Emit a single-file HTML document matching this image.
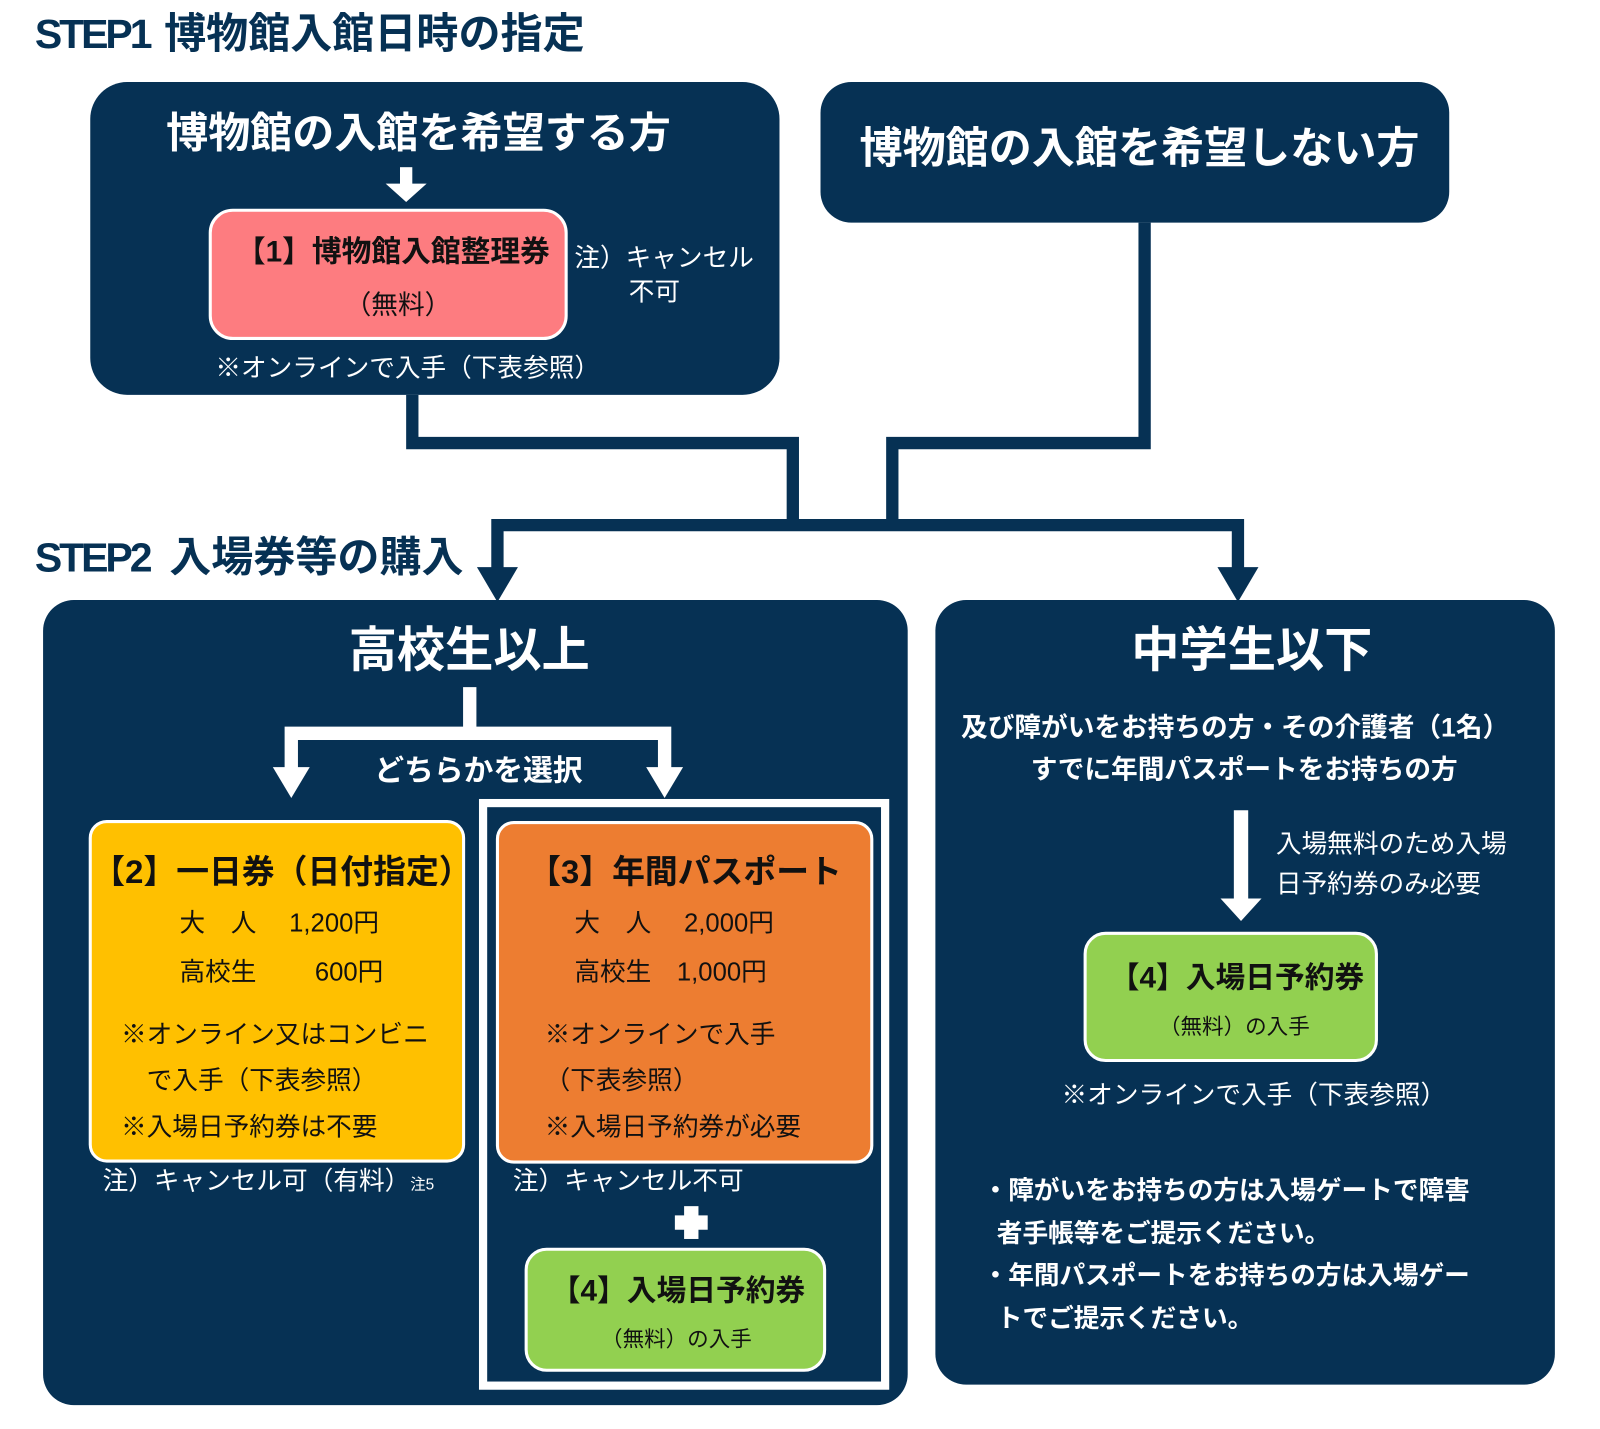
<!DOCTYPE html>
<html><head><meta charset="utf-8"><style>
html,body{margin:0;padding:0;background:#fff;width:1600px;height:1429px;overflow:hidden}
#c{position:absolute;left:0;top:0;width:1560px;height:1393px;transform:scale(1.02564);transform-origin:0 0;font-family:"Liberation Sans","Noto Sans CJK JP",sans-serif}
.t{position:absolute;white-space:nowrap;line-height:1}
.w{color:#fff}.b{font-weight:bold}
svg{position:absolute;left:0;top:0}
</style></head><body><div id="c">
<svg width="1560" height="1393" viewBox="0 0 1560 1393">
<g fill="#063154">
<rect x="88" y="80" width="672" height="305" rx="36"/>
<rect x="800" y="80" width="613" height="137" rx="30"/>
<rect x="42" y="585" width="843" height="785" rx="30"/>
<rect x="912" y="585" width="604" height="765" rx="30"/>
</g>
<g fill="none" stroke="#063154" stroke-width="12">
<polyline points="402,385 402,432 773,432 773,512"/>
<polyline points="1116,217 1116,432 870,432 870,512"/>
<polyline points="485,555 485,512 1207,512 1207,555"/>
</g>
<g fill="#063154">
<polygon points="465,553 505,553 485,587"/>
<polygon points="1187,553 1227,553 1207,587"/>
</g>
<g fill="#fff">
<rect x="390" y="163" width="12" height="18"/>
<polygon points="376,179 416,179 396,197"/>
</g>
<rect x="205" y="205" width="347" height="125" rx="22" fill="#fd7c80" stroke="#fff" stroke-width="3"/>
<g fill="none" stroke="#fff" stroke-width="13">
<polyline points="458,670 458,715"/>
<polyline points="284,752 284,715 648,715 648,752"/>
</g>
<g fill="#fff">
<polygon points="266,748 302,748 284,778"/>
<polygon points="630,748 666,748 648,778"/>
</g>
<rect x="471" y="783" width="392" height="568" fill="none" stroke="#fff" stroke-width="8"/>
<rect x="88" y="801" width="364" height="331" rx="16" fill="#ffc000" stroke="#fff" stroke-width="3"/>
<rect x="485" y="802" width="365" height="331" rx="16" fill="#ed7d31" stroke="#fff" stroke-width="3"/>
<rect x="513" y="1218" width="291" height="118" rx="20" fill="#92d050" stroke="#fff" stroke-width="3"/>
<g fill="#fff">
<rect x="667" y="1176" width="14" height="32"/>
<rect x="658" y="1185" width="32" height="14"/>
</g>
<g fill="#fff">
<rect x="1203" y="790" width="14" height="90"/>
<polygon points="1190,876 1230,876 1210,898"/>
</g>
<rect x="1058" y="910" width="284" height="124" rx="20" fill="#92d050" stroke="#fff" stroke-width="3"/>
</svg>

<div class="t b" style="left:34px;top:14px;font-size:40px;color:#063154;letter-spacing:-3px">STEP1</div>
<div class="t b" style="left:160px;top:13px;font-size:41px;color:#063154">博物館入館日時の指定</div>
<div class="t b" style="left:34px;top:524px;font-size:40px;color:#063154;letter-spacing:-3px">STEP2</div>
<div class="t b" style="left:165px;top:523px;font-size:41px;color:#063154">入場券等の購入</div>

<div class="t w b" style="left:162px;top:110px;font-size:41px">博物館の入館を希望する方</div>
<div class="t w b" style="left:838px;top:124px;font-size:42px">博物館の入館を希望しない方</div>
<div class="t b" style="left:230px;top:232px;font-size:29px;color:#111">【1】博物館入館整理券</div>
<div class="t" style="left:336px;top:284px;font-size:26px;color:#111">（無料）</div>
<div class="t w" style="left:560px;top:240px;font-size:25px">注）キャンセル</div>
<div class="t w" style="left:613px;top:273px;font-size:25px">不可</div>
<div class="t w" style="left:210px;top:347px;font-size:25px">※オンラインで入手（下表参照）</div>

<div class="t w b" style="left:340px;top:610px;font-size:47px">高校生以上</div>
<div class="t w b" style="left:1103px;top:610px;font-size:47px">中学生以下</div>
<div class="t w b" style="left:365px;top:738px;font-size:29px">どちらかを選択</div>

<div class="t b" style="left:90px;top:834px;font-size:32px;color:#111">【2】一日券（日付指定）</div>
<div class="t" style="left:175px;top:876px;font-size:25px;color:#111;line-height:48px">大　人　 1,200円<br>高校生　　 600円</div>
<div class="t" style="left:118px;top:987px;font-size:25px;color:#111;line-height:45px">※オンライン又はコンビニ<br>　で入手（下表参照）<br>※入場日予約券は不要</div>
<div class="t w" style="left:100px;top:1140px;font-size:25px">注）キャンセル可（有料）<span style="font-size:15px">注5</span></div>

<div class="t b" style="left:515px;top:834px;font-size:32px;color:#111">【3】年間パスポート</div>
<div class="t" style="left:560px;top:876px;font-size:25px;color:#111;line-height:48px">大　人　 2,000円<br>高校生　1,000円</div>
<div class="t" style="left:531px;top:987px;font-size:25px;color:#111;line-height:45px">※オンラインで入手<br>（下表参照）<br>※入場日予約券が必要</div>
<div class="t w" style="left:500px;top:1140px;font-size:25px">注）キャンセル不可</div>
<div class="t b" style="left:537px;top:1245px;font-size:29px;color:#111">【4】入場日予約券</div>
<div class="t" style="left:586px;top:1296px;font-size:21px;color:#111">（無料）の入手</div>

<div class="t w b" style="left:937px;top:696px;font-size:26px">及び障がいをお持ちの方・その介護者（1名）</div>
<div class="t w b" style="left:1005px;top:737px;font-size:26px">すでに年間パスポートをお持ちの方</div>
<div class="t w" style="left:1244px;top:804px;font-size:25px;line-height:39px">入場無料のため入場<br>日予約券のみ必要</div>
<div class="t b" style="left:1082px;top:940px;font-size:29px;color:#111">【4】入場日予約券</div>
<div class="t" style="left:1130px;top:991px;font-size:21px;color:#111">（無料）の入手</div>
<div class="t w" style="left:1035px;top:1056px;font-size:25px">※オンラインで入手（下表参照）</div>
<div class="t w b" style="left:958px;top:1141px;font-size:25px;line-height:41.5px">・障がいをお持ちの方は入場ゲートで障害<br>&nbsp;&nbsp;者手帳等をご提示ください。<br>・年間パスポートをお持ちの方は入場ゲー<br>&nbsp;&nbsp;トでご提示ください。</div>
</div></body></html>
